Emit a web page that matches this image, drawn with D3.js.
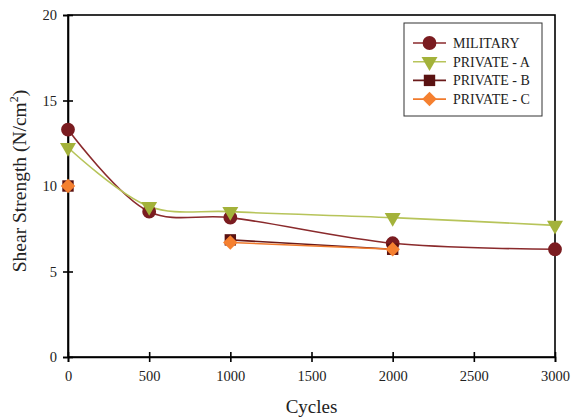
<!DOCTYPE html>
<html><head><meta charset="utf-8">
<script src="https://cdn.jsdelivr.net/npm/d3@7"></script>
<style>body{margin:0;background:#fff}svg{display:block}</style>
</head><body><svg id="c" width="571" height="419"></svg>
<script>
const seriesNames = ["MILITARY","PRIVATE - A","PRIVATE - B","PRIVATE - C"];
const militaryX = [0,500,1000,2000,3000];
const militaryY = [13.3,8.5,8.15,6.65,6.3];
const privateAX = [0,500,1000,2000,3000];
const privateAY = [12.25,8.8,8.5,8.15,7.7];
const privateBX = [0,1000,2000];
const privateBY = [10,6.85,6.3];
const privateCX = [0,1000,2000];
const privateCY = [10,6.7,6.3];
const xTicks = [0,500,1000,1500,2000,2500,3000];
const yTicks = [0,5,10,15,20];

const svg = d3.select("#c");
const FONT = '"Liberation Serif"';
const x = d3.scaleLinear().domain([0,3000]).range([68, 555]);
const y = d3.scaleLinear().domain([0,20]).range([357, 15]);

svg.append("rect").attr("x",x(0)).attr("y",y(20)).attr("width",x(3000)-x(0)).attr("height",y(0)-y(20))
  .attr("fill","none").attr("stroke","#000").attr("stroke-width",1.6);

const xa = svg.append("g").attr("transform",`translate(0,${y(0)})`)
  .call(d3.axisBottom(x).tickValues(xTicks).tickSize(5).tickPadding(9).tickFormat(d3.format("d")));
xa.selectAll(".tick line").attr("y1",-5).attr("y2",5).attr("stroke-width",1.6);
const ya = svg.append("g").attr("transform",`translate(${x(0)},0)`)
  .call(d3.axisLeft(y).tickValues(yTicks).tickSize(5).tickPadding(6));
ya.selectAll(".tick line").attr("x1",5).attr("x2",-5).attr("stroke-width",1.6);
[xa,ya].forEach(a=>{a.attr("font-family",null);a.select(".domain").attr("stroke-width",1.6);
  a.selectAll("text").style("font-family",FONT).style("font-size","14.5px").attr("fill","#222");});

svg.append("text").attr("x",(x(0)+x(3000))/2).attr("y",413).attr("text-anchor","middle")
  .style("font-family",FONT).style("font-size","19px").attr("fill","#222").text("Cycles");
const yt = svg.append("text").attr("transform",`translate(26,181) rotate(-90)`).attr("text-anchor","middle")
  .style("font-family",FONT).style("font-size","19.5px").attr("fill","#222");
yt.append("tspan").text("Shear Strength (N/cm");
yt.append("tspan").attr("dy",-8).style("font-size","12px").text("2");
yt.append("tspan").attr("dy",8).text(")");

const series = [
  {name:seriesNames[0], xs:militaryX, ys:militaryY, from:0, line:"#8a2a2c", fill:"#7a1c20", sym:d3.symbolCircle, size:150, rot:0},
  {name:seriesNames[1], xs:privateAX, ys:privateAY, from:0, line:"#b7c45a", fill:"#a3b23a", sym:d3.symbolTriangle, size:110, rot:180},
  {name:seriesNames[2], xs:privateBX, ys:privateBY, from:1, line:"#6a1a1a", fill:"#5a1212", sym:d3.symbolSquare, size:130, rot:0},
  {name:seriesNames[3], xs:privateCX, ys:privateCY, from:1, line:"#f07a2c", fill:"#f58030", sym:d3.symbolSquare, size:105, rot:45}
];
const line = d3.line().x(d=>x(d[0])).y(d=>y(d[1])).curve(d3.curveCatmullRom.alpha(0.5));
series.forEach(s=>{
  const pts = s.xs.map((v,i)=>[v,s.ys[i]]).slice(s.from);
  svg.append("path").attr("d",line(pts)).attr("fill","none").attr("stroke",s.line).attr("stroke-width",1.6);
});
series.forEach(s=>{
  const pts = s.xs.map((v,i)=>[v,s.ys[i]]);
  svg.selectAll(null).data(pts).enter().append("path")
    .attr("d",d3.symbol().type(s.sym).size(s.size))
    .attr("transform",d=>`translate(${x(d[0])},${y(d[1])}) rotate(${s.rot})`)
    .attr("fill",s.fill);
});

const lg = svg.append("g");
lg.append("rect").attr("x",404).attr("y",23).attr("width",138).attr("height",93)
  .attr("fill","#fff").attr("stroke","#333").attr("stroke-width",1);
series.forEach((s,i)=>{
  const yy = 43 + i*18.7;
  lg.append("line").attr("x1",413).attr("x2",446).attr("y1",yy).attr("y2",yy).attr("stroke",s.line).attr("stroke-width",1.6);
  lg.append("path").attr("d",d3.symbol().type(s.sym).size(s.size)).attr("transform",`translate(429.5,${yy}) rotate(${s.rot})`).attr("fill",s.fill);
  lg.append("text").attr("x",453).attr("y",yy+5).style("font-family",FONT).style("font-size","14px").attr("fill","#222").text(s.name);
});
</script></body></html>
